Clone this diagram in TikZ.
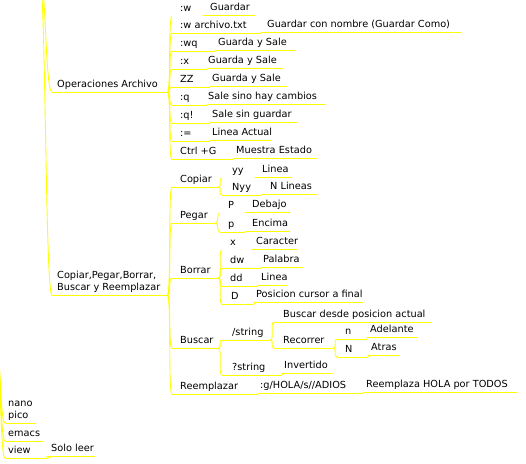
\documentclass[tikz,border=0pt]{standalone}
\usepackage{fontspec}
\setmainfont{DejaVu Sans}
\definecolor{edgeY}{RGB}{255,255,0}
\tikzset{
  mm/.style={anchor=south west, inner sep=0pt, text depth=4pt,
    font=\fontsize{9.75}{12.5}\selectfont, text=black},
  ul/.style={draw=edgeY, line width=0.9pt},
  ed/.style={draw=edgeY, line width=0.9pt},
}
\newcommand\mmn[6]{\pgfmathsetmacro\mmW{#4-#2}\pgfmathsetmacro\mmO{#5-#2}%
  \node[mm] (#1) at (#2,#3) {\makebox[\mmW pt][l]{\hspace*{\mmO pt}#6}};}
\newcommand\mme[3][4]{\draw[ed] (#2.south east) .. controls +(#1,0) and +(-#1,0) .. (#3.south west);}
\newcommand\mmu[1]{\draw[ul] (#1.south west) -- (#1.south east);}
\begin{document}
\begin{tikzpicture}[x=1pt,y=-1pt]
\fill[white] (0,0) rectangle (526,463);
\useasboundingbox (0,0) rectangle (526,463);
\coordinate (rootA) at (39,-30);
\coordinate (rootB) at (-4,348);
% level 1
\mmn{OA}{52}{92}{167}{57}{Operaciones Archivo}
\mmn{CP}{52}{295}{167}{57}{\begin{tabular}[b]{@{}l@{}}Copiar,Pegar,Borrar,\\Buscar y Reemplazar\end{tabular}}
\mmn{NP}{5}{423}{36}{8}{\begin{tabular}[b]{@{}l@{}}nano\\pico\end{tabular}}
\mmn{EM}{5}{441}{43}{8}{emacs}
\mmn{VW}{5}{458}{48}{8}{view}
\mmn{SL}{48}{456}{95}{51}{Solo leer}
% Operaciones Archivo
\mmn{a1}{172}{16}{203}{180}{:w}
\mmn{a1c}{203}{15}{255}{210}{Guardar}
\mmn{a2}{172}{33}{261}{180}{:w archivo.txt}
\mmn{a2c}{261}{32}{462}{267}{Guardar con nombre (Guardar Como)}
\mmn{a3}{172}{51}{215}{180}{:wq}
\mmn{a3c}{215}{50}{296}{218}{Guarda y Sale}
\mmn{a4}{172}{69}{207}{180}{:x}
\mmn{a4c}{207}{68}{283}{208}{Guarda y Sale}
\mmn{a5}{172}{87}{210}{180}{ZZ}
\mmn{a5c}{210}{86}{287}{212}{Guarda y Sale}
\mmn{a6}{172}{105}{207}{180}{:q}
\mmn{a6c}{207}{104}{326}{208}{Sale sino hay cambios}
\mmn{a7}{172}{123}{210}{180}{:q!}
\mmn{a7c}{210}{122}{297}{212}{Sale sin guardar}
\mmn{a8}{172}{141}{210}{180}{:=}
\mmn{a8c}{210}{140}{272}{212}{Linea Actual}
\mmn{a9}{172}{159}{233}{180}{Ctrl +G}
\mmn{a9c}{233}{158}{317}{236}{Muestra Estado}
% Copiar group
\mmn{cop}{172}{187}{218}{180}{Copiar}
\mmn{peg}{172}{223}{215}{180}{Pegar}
\mmn{bor}{172}{278}{218}{180}{Borrar}
\mmn{bus}{172}{348}{218}{180}{Buscar}
\mmn{ree}{172}{394}{258}{180}{Reemplazar}
\mmn{yy}{222}{178}{255}{232}{yy}
\mmn{yyc}{255}{177}{292}{262}{Linea}
\mmn{nyy}{222}{195}{262}{232}{Nyy}
\mmn{nyyc}{262}{194}{318}{270}{N Lineas}
\mmn{pP}{220}{213}{245}{228}{P}
\mmn{pPc}{245}{212}{290}{252}{Debajo}
\mmn{pp}{220}{232}{245}{228}{p}
\mmn{ppc}{245}{231}{290}{252}{Encima}
\mmn{bx}{222}{250}{252}{230}{x}
\mmn{bxc}{252}{249}{297}{256}{Caracter}
\mmn{bdw}{222}{268}{261}{230}{dw}
\mmn{bdwc}{261}{267}{303}{263}{Palabra}
\mmn{bdd}{222}{286}{258}{230}{dd}
\mmn{bddc}{258}{285}{288}{261}{Linea}
\mmn{bD}{222}{304}{254}{231}{D}
\mmn{bDc}{254}{302}{363}{256}{Posicion cursor a final}
\mmn{s1}{222}{340}{270}{232}{/string}
\mmn{s1a}{274}{322}{432}{283}{Buscar desde posicion actual}
\mmn{s1b}{274}{348}{333}{283}{Recorrer}
\mmn{rn}{337}{339}{367}{345}{n}
\mmn{rnc}{367}{337}{417}{370}{Adelante}
\mmn{rN}{337}{357}{368}{345}{N}
\mmn{rNc}{368}{355}{400}{371}{Atras}
\mmn{s2}{222}{375}{282}{232}{?string}
\mmn{s2c}{282}{373}{333}{284}{Invertido}
\mmn{rg}{258}{393}{363}{260}{:g/HOLA/s//ADIOS}
\mmn{rgc}{363}{392}{517}{366}{Reemplaza HOLA por TODOS}
% underlines
\foreach \n in {OA,CP,NP,EM,VW,SL,a1c,a2,a2c,a3,a3c,a4,a4c,a5,a5c,a6,a6c,a7,a7c,a8,a8c,a9,a9c,
  cop,peg,bor,bus,ree,yyc,nyy,nyyc,pPc,pp,ppc,bxc,bdw,bdwc,bdd,bddc,bD,bDc,
  s1,s1a,s1b,rn,rnc,rN,rNc,s2,s2c,rg,rgc}{\mmu{\n}}
% root edges
\draw[ed] (rootA) .. controls +(7,0) and +(-7,0) .. (OA.south west);
\draw[ed] (rootA) .. controls +(7,0) and +(-7,0) .. (CP.south west);
\foreach \c in {NP,EM,VW}{\draw[ed] (rootB) .. controls +(5,0) and +(-5,0) .. (\c.south west);}
\mme{VW}{SL}
% edges
\foreach \c in {a1,a2,a3,a4,a5,a6,a7,a8,a9}{\mme{OA}{\c}}
\foreach \p/\c in {a1/a1c,a2/a2c,a3/a3c,a4/a4c,a5/a5c,a6/a6c,a7/a7c,a8/a8c,a9/a9c}{\mme[1]{\p}{\c}}
\foreach \c in {cop,peg,bor,bus,ree}{\mme{CP}{\c}}
\mme{cop}{yy}\mme{cop}{nyy}\mme[1]{yy}{yyc}\mme[1]{nyy}{nyyc}
\mme{peg}{pP}\mme{peg}{pp}\mme[1]{pP}{pPc}\mme[1]{pp}{ppc}
\foreach \c in {bx,bdw,bdd,bD}{\mme{bor}{\c}}
\foreach \p/\c in {bx/bxc,bdw/bdwc,bdd/bddc,bD/bDc}{\mme[1]{\p}{\c}}
\mme{bus}{s1}\mme{bus}{s2}
\mme{s1}{s1a}\mme{s1}{s1b}
\mme{s1b}{rn}\mme{s1b}{rN}\mme[1]{rn}{rnc}\mme[1]{rN}{rNc}
\mme[1]{s2}{s2c}
\mme[1]{ree}{rg}\mme[1]{rg}{rgc}
\end{tikzpicture}
\end{document}
